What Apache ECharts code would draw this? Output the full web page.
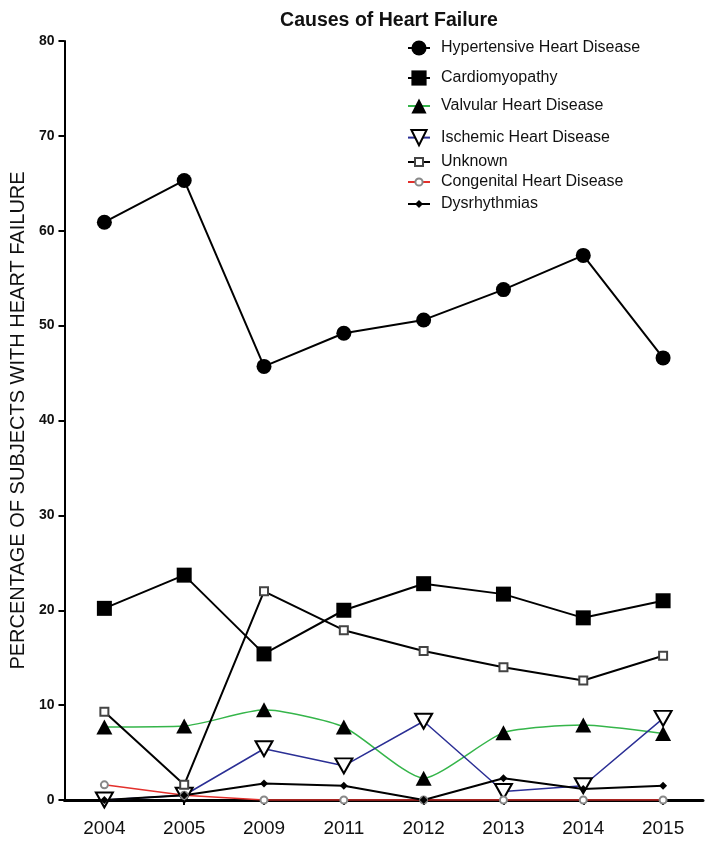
<!DOCTYPE html>
<html><head><meta charset="utf-8">
<script src="https://cdn.jsdelivr.net/npm/echarts@6/dist/echarts.min.js"></script>
<style>html,body{margin:0;padding:0;background:#fff}#c{width:709px;height:842px}</style>
</head><body><div id="c"></div>
<script>
const years = ['2004','2005','2009','2011','2012','2013','2014','2015'];
const yTicks = [0, 10, 20, 30, 40, 50, 60, 70, 80];
const hypertensive = [60.9, 65.3, 45.7, 49.2, 50.6, 53.8, 57.4, 46.6];
const cardiomyopathy = [20.2, 23.7, 15.4, 20.0, 22.8, 21.7, 19.2, 21.0];
const valvular = [7.7, 7.8, 9.5, 7.7, 2.3, 7.1, 7.9, 7.0];
const ischemic = [0.0, 0.5, 5.4, 3.6, 8.3, 0.9, 1.5, 8.6];
const unknown = [9.3, 1.6, 22.0, 17.9, 15.7, 14.0, 12.6, 15.2];
const congenital = [1.6, 0.5, 0, 0, 0, 0, 0, 0];
const dysrhythmias = [0, 0.5, 1.75, 1.5, 0, 2.3, 1.15, 1.5];

const FONT = '"Liberation Sans", Arial, sans-serif';
const seriesDefs = [
  {name:'Hypertensive Heart Disease', data:hypertensive, symbol:'circle', size:15, line:'#000', lw:2, fill:'#000', lh:19, row:50},
  {name:'Cardiomyopathy', data:cardiomyopathy, symbol:'rect', size:15, line:'#000', lw:2, fill:'#000', lh:19, row:80},
  {name:'Valvular Heart Disease', data:valvular, symbol:'triangle', size:[16,15], line:'#35b54a', lw:1.5, fill:'#000', lh:19, row:108, smooth:0.2},
  {name:'Ischemic Heart Disease', data:ischemic, symbol:'emptyTriangle', size:[17,15], rot:180, line:'#2b2f95', lw:1.5, fill:'#000', lh:19, row:139},
  {name:'Unknown', data:unknown, symbol:'emptyRect', size:8, line:'#000', lw:2, fill:'#444', lh:10, row:164},
  {name:'Congenital Heart Disease', data:congenital, symbol:'emptyCircle', size:7, line:'#e3302c', lw:1.5, fill:'#888', lh:9, row:184},
  {name:'Dysrhythmias', data:dysrhythmias, symbol:'diamond', size:8, line:'#000', lw:2, fill:'#000', lh:10, row:206}
];

const series = seriesDefs.map(d => ({
  name: d.name, type: 'line', data: d.data,
  symbol: d.symbol, symbolSize: d.size, symbolRotate: d.rot || 0,
  smooth: d.smooth || false,
  showAllSymbol: true,
  lineStyle: {color: d.line, width: d.lw},
  itemStyle: {color: d.fill, borderWidth: d.symbol.indexOf('empty') === 0 ? 1.6 : 0},
  emphasis: {disabled: true}
}));

const legends = seriesDefs.map(d => ({
  data: [d.name], orient: 'vertical', left: 407, top: d.row - 10,
  itemWidth: 22, itemHeight: d.lh, padding: 0,
  textStyle: {fontFamily: FONT, fontSize: 16, color: '#111', padding: [0, 0, 0, 6]},
  selectedMode: false
}));

const chart = echarts.init(document.getElementById('c'), null, {renderer: 'canvas'});
chart.setOption({
  animation: false,
  backgroundColor: '#fff',
  title: {text: 'Causes of Heart Failure', left: 384, textAlign: 'center', top: 6,
    textStyle: {fontFamily: FONT, fontSize: 19.5, fontWeight: 'bold', color: '#111'}},
  legend: legends,
  grid: {left: 59, right: 6, top: 41, bottom: 42, containLabel: false},
  xAxis: {type: 'category', data: years, boundaryGap: true,
    axisLine: {lineStyle: {color: '#000', width: 3}},
    axisTick: {show: true, alignWithLabel: true, length: 5, lineStyle: {color: '#000', width: 2}},
    axisLabel: {fontFamily: FONT, fontSize: 19, color: '#111', margin: 19},
    splitLine: {show: false}},
  yAxis: {type: 'value', min: yTicks[0], max: yTicks[yTicks.length-1], interval: 10,
    name: 'PERCENTAGE OF SUBJECTS WITH HEART FAILURE', nameLocation: 'middle', nameGap: 33,
    nameTextStyle: {fontFamily: FONT, fontSize: 20, color: '#111'},
    axisLine: {show: true, lineStyle: {color: '#000', width: 2}},
    axisTick: {show: true, length: 6, lineStyle: {color: '#000', width: 2}},
    axisLabel: {fontFamily: FONT, fontSize: 14, fontWeight: 'bold', color: '#111', margin: 10},
    splitLine: {show: false}},
  series: series
});
</script></body></html>
